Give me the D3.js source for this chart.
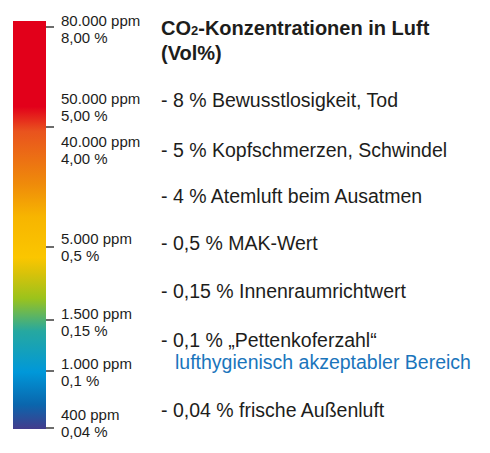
<!DOCTYPE html>
<html>
<head>
<meta charset="utf-8">
<script src="https://cdn.jsdelivr.net/npm/d3@7"></script>
<style>
  body { margin: 0; background: #fff; }
  text { font-family: "Liberation Sans", Arial, sans-serif; fill: #1d1d1b; }
</style>
</head>
<body>
<svg id="chart" width="490" height="453"></svg>
<script>
// Scale ticks (ppm) and their labels
const tickPpm = [80000, 40000, 5000, 1500, 1000, 400];
const tickPx = [27, 127, 247, 320, 371, 428]; // scale anchor positions
const labelPpm = [80000, 50000, 40000, 5000, 1500, 1000, 400];
const labelPpmText = ['80.000 ppm', '50.000 ppm', '40.000 ppm', '5.000 ppm', '1.500 ppm', '1.000 ppm', '400 ppm'];
const labelPctText = ['8,00 %', '5,00 %', '4,00 %', '0,5 %', '0,15 %', '0,1 %', '0,04 %'];
const labelY = [21, 99, 142, 239, 314, 364, 415];

// Colour gradient stops (offset, colour)
const stopOffsets = [0, 0.21, 0.27, 0.40, 0.48, 0.58, 0.62, 0.68, 0.76, 0.86, 0.94, 1];
const stopColors = ['#e2001a', '#e2001a', '#e9531e', '#ef8b0a', '#f7b500', '#fbc600', '#d7c20a', '#9bc31c', '#26a8a0', '#0098d9', '#0a66ad', '#433c8c'];

// Legend entries on the right
const items = [
  '- 8 % Bewusstlosigkeit, Tod',
  '- 5 % Kopfschmerzen, Schwindel',
  '- 4 % Atemluft beim Ausatmen',
  '- 0,5 % MAK-Wert',
  '- 0,15 % Innenraumrichtwert',
  '- 0,1 % \u201EPettenkoferzahl\u201C',
  '- 0,04 % frische Au\u00DFenluft'
];
const itemY = [107, 157, 203, 250, 298, 347, 417];
const noteText = 'lufthygienisch akzeptabler Bereich';

const svg = d3.select('#chart');
const bar = { x: 13, w: 33, top: 21, bottom: 429 };

const y = d3.scaleLinear().domain(tickPpm).range(tickPx);

// Gradient
const grad = svg.append('defs').append('linearGradient')
  .attr('id', 'co2grad').attr('x1', 0).attr('y1', 0).attr('x2', 0).attr('y2', 1);
grad.selectAll('stop').data(stopOffsets).join('stop')
  .attr('offset', d => d)
  .attr('stop-color', (d, i) => stopColors[i]);

svg.append('rect')
  .attr('x', bar.x).attr('y', bar.top)
  .attr('width', bar.w).attr('height', bar.bottom - bar.top)
  .attr('fill', 'url(#co2grad)');

// Ticks
svg.selectAll('.tick').data(tickPpm).join('line')
  .attr('class', 'tick')
  .attr('x1', bar.x + bar.w).attr('x2', bar.x + bar.w + 8)
  .attr('y1', d => y(d)).attr('y2', d => y(d))
  .attr('stroke', '#1d1d1b').attr('stroke-width', 1.3);

// Scale labels
const lab = svg.selectAll('.lab').data(labelPpm).join('g').attr('class', 'lab');
lab.append('text').attr('x', 61).attr('y', (d, i) => labelY[i] + 5)
  .attr('font-size', 15).text((d, i) => labelPpmText[i]);
lab.append('text').attr('x', 61).attr('y', (d, i) => labelY[i] + 22)
  .attr('font-size', 15).text((d, i) => labelPctText[i]);

// Title
svg.append('text').attr('x', 161).attr('y', 35)
  .attr('font-size', 20).attr('font-weight', 'bold')
  .call(t => {
    t.append('tspan').text('CO');
    t.append('tspan').attr('font-size', 13).text('2');
    t.append('tspan').text('-Konzentrationen in Luft');
  });
svg.append('text').attr('x', 161).attr('y', 60)
  .attr('font-size', 20).attr('font-weight', 'bold').text('(Vol%)');

// Items
svg.selectAll('.item').data(items).join('text')
  .attr('class', 'item')
  .attr('x', 161).attr('y', (d, i) => itemY[i])
  .attr('font-size', 19.5).text(d => d);

svg.append('text').attr('x', 175).attr('y', 369)
  .attr('font-size', 19.5).style('fill', '#1a75bc').text(noteText);
</script>
</body>
</html>
